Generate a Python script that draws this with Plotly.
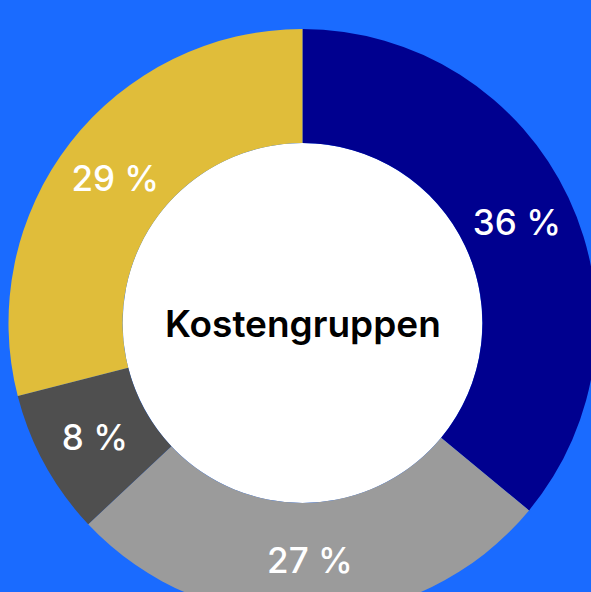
import plotly.graph_objects as go

labels = ["Kostengruppe A", "Kostengruppe B", "Kostengruppe C", "Kostengruppe D"]
values = [36, 27, 8, 29]
colors = ["#00008f", "#9b9b9b", "#4f4f4f", "#e0bd3a"]
center_text = "Kostengruppen"

W, H = 600, 620
cx, cy, R = 302.5, 323, 294
hole = 0.612
r_in = R * hole

fig = go.Figure(go.Pie(
    labels=labels,
    values=values,
    hole=hole,
    sort=False,
    direction="clockwise",
    rotation=0,
    marker=dict(colors=colors, line=dict(width=0)),
    texttemplate="%{value} %",
    textposition="inside",
    insidetextorientation="horizontal",
    textfont=dict(family="Inter", size=35, color="white", weight=500),
    showlegend=False,
    hoverinfo="none",
    domain=dict(x=[(cx - R) / W, (cx + R) / W], y=[(H - (cy + R)) / H, (H - (cy - R)) / H]),
))

fig.add_shape(
    type="circle", xref="paper", yref="paper",
    x0=(cx - r_in) / W, x1=(cx + r_in) / W,
    y0=(H - (cy + r_in)) / H, y1=(H - (cy - r_in)) / H,
    fillcolor="white", line=dict(width=0), layer="below",
)

fig.add_annotation(
    x=cx / W, y=(H - cy) / H, xref="paper", yref="paper",
    text=center_text, showarrow=False,
    font=dict(family="Inter", size=37, color="black", weight=600),
)

fig.update_layout(
    width=W, height=H,
    margin=dict(l=0, r=0, t=0, b=0),
    paper_bgcolor="#1a6bff",
    plot_bgcolor="#1a6bff",
    uniformtext=dict(minsize=35, mode="show"),
)

fig.write_html(
    "out.html",
    config={"displayModeBar": False},
    post_script=(
        "document.documentElement.style.overflow='hidden';"
        "document.body.style.overflow='hidden';"
        "document.body.style.margin='0';"
        "document.body.style.background='#1a6bff';"
    ),
)
